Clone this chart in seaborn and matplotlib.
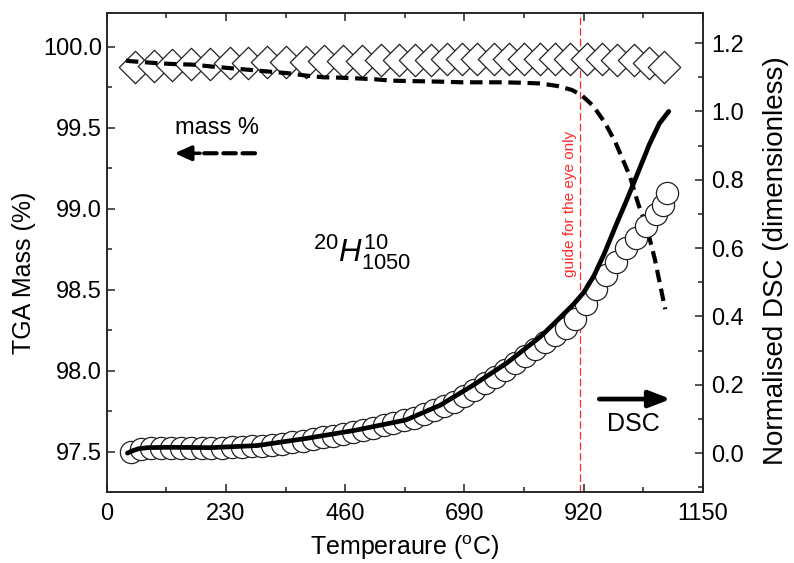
import numpy as np
import pandas as pd
import seaborn as sns
import matplotlib.pyplot as plt
from matplotlib.ticker import MultipleLocator, FormatStrFormatter

sns.set_style('ticks')
plt.rcParams['font.family'] = ['Liberation Sans', 'DejaVu Sans']
plt.rcParams['mathtext.fontset'] = 'custom'
plt.rcParams['mathtext.rm'] = 'Liberation Sans'
plt.rcParams['mathtext.it'] = 'Liberation Sans:italic'
plt.rcParams['text.color'] = 'black'
plt.rcParams['axes.labelcolor'] = 'black'
plt.rcParams['xtick.color'] = 'black'
plt.rcParams['ytick.color'] = 'black'

# TGA mass (left axis), dashed line
tga_temp = [37, 47, 89, 127, 166, 204, 243, 278, 313, 350, 386, 417, 446, 477, 516, 552,
            579, 643, 687, 723, 764, 803, 836, 868, 897, 916, 938, 961, 981, 993, 1009,
            1025, 1041, 1057, 1077]
tga_mass = [99.914, 99.91, 99.90, 99.893, 99.889, 99.877, 99.866, 99.856, 99.846, 99.836,
            99.821, 99.811, 99.809, 99.805, 99.799, 99.790, 99.788, 99.784, 99.780, 99.780,
            99.780, 99.777, 99.773, 99.758, 99.733, 99.70, 99.635, 99.53, 99.41, 99.32,
            99.20, 99.03, 98.89, 98.69, 98.38]

# reference mass points (diamonds)
ref_temp = [55, 91, 126, 163, 200, 237, 273, 310, 345, 384, 419, 456, 493, 529, 564, 595,
            625, 656, 685, 715, 746, 775, 804, 836, 865, 893, 926, 955, 984, 1016, 1045, 1074]
ref_mass = [99.877, 99.882, 99.887, 99.891, 99.895, 99.898, 99.901, 99.904, 99.906, 99.908,
            99.910, 99.912, 99.914, 99.916, 99.918, 99.920, 99.920, 99.921, 99.921, 99.922,
            99.922, 99.922, 99.922, 99.922, 99.922, 99.922, 99.922, 99.921, 99.920, 99.916,
            99.902, 99.877]

# normalised DSC (right axis), solid line
dsc_temp = [40, 50, 62, 80, 120, 200, 290, 385, 480, 577, 643, 707, 771, 836, 860, 880,
            900, 920, 940, 960, 983, 1000, 1015, 1031, 1047, 1066, 1084]
dsc_val = [0.0, 0.007, 0.013, 0.016, 0.017, 0.016, 0.022, 0.043, 0.067, 0.097, 0.14, 0.199,
           0.263, 0.34, 0.375, 0.405, 0.435, 0.47, 0.52, 0.585, 0.67, 0.73, 0.785, 0.845,
           0.905, 0.965, 1.0]

# normalised DSC points (circles)
pts_temp = [46, 66, 85, 105, 124, 144, 163, 183, 202, 222, 241, 261, 280, 300, 319, 339,
            358, 378, 397, 417, 436, 456, 475, 495, 514, 534, 553, 573, 592, 612, 631, 651,
            670, 690, 709, 729, 748, 768, 787, 807, 826, 846, 865, 885, 904, 924, 943, 963,
            982, 1002, 1021, 1041, 1060, 1072, 1080]
pts_val = [0.003, 0.012, 0.015, 0.016, 0.016, 0.016, 0.016, 0.016, 0.016, 0.016, 0.017,
           0.018, 0.020, 0.022, 0.025, 0.028, 0.032, 0.036, 0.041, 0.046, 0.051, 0.056,
           0.062, 0.068, 0.074, 0.081, 0.088, 0.096, 0.104, 0.114, 0.125, 0.137, 0.151,
           0.166, 0.185, 0.205, 0.223, 0.243, 0.263, 0.283, 0.305, 0.325, 0.345, 0.365,
           0.392, 0.435, 0.48, 0.52, 0.56, 0.60, 0.63, 0.665, 0.70, 0.725, 0.76]

guide_temp = 912

fig = plt.figure(figsize=(7.94, 5.63), dpi=100)
ax = fig.add_axes([0.1344, 0.1266, 0.751, 0.8498])
ax2 = ax.twinx()

sns.scatterplot(x=ref_temp, y=ref_mass, ax=ax, marker='D', s=16.5**2, facecolor='white',
                edgecolor='#222222', linewidth=0.9, zorder=2)
sns.lineplot(x=tga_temp, y=tga_mass, ax=ax, color='black', lw=3, sort=False,
             estimator=None, linestyle=(0, (3, 1.6)), zorder=3)
ax.axvline(guide_temp, color='#ff2a2a', lw=0.9, linestyle=(0, (6, 2.5)), zorder=1)

sns.scatterplot(x=pts_temp, y=pts_val, ax=ax2, marker='o', s=16**2, facecolor='white',
                edgecolor='#222222', linewidth=0.9, zorder=2)
sns.lineplot(x=dsc_temp, y=dsc_val, ax=ax2, color='black', lw=3.4, sort=False,
             estimator=None, zorder=3)

ax.set_xlim(0, 1150)
ax.set_ylim(97.253, 100.206)
ax2.set_ylim(-0.113, 1.287)

ax.xaxis.set_major_locator(MultipleLocator(230))
ax.xaxis.set_minor_locator(MultipleLocator(115))
ax.yaxis.set_major_locator(MultipleLocator(0.5))
ax.yaxis.set_minor_locator(MultipleLocator(0.25))
ax.yaxis.set_major_formatter(FormatStrFormatter('%.1f'))
ax2.yaxis.set_major_locator(MultipleLocator(0.2))
ax2.yaxis.set_minor_locator(MultipleLocator(0.1))
ax2.yaxis.set_major_formatter(FormatStrFormatter('%.1f'))

ax.tick_params(axis='both', which='both', direction='in', top=True, right=False,
               labelsize=17, width=1.1, color='#222222')
ax.tick_params(which='major', length=6)
ax.tick_params(which='minor', length=3.5)
ax.tick_params(axis='x', pad=8)
ax2.tick_params(axis='y', which='both', direction='in', labelsize=17, width=1.1,
                color='#222222', pad=6)
ax2.tick_params(which='major', length=6)
ax2.tick_params(which='minor', length=3.5)

for a in (ax, ax2):
    for s in a.spines.values():
        s.set_linewidth(1.1)
        s.set_color('#222222')

ax.set_xlabel('Temperaure ($^{\\mathrm{o}}$C)', fontsize=18, labelpad=6)
ax.set_ylabel('TGA Mass (%)', fontsize=18)
ax.yaxis.set_label_coords(-0.118, 0.457)
ax2.set_ylabel('Normalised DSC (dimensionless)', fontsize=20)
ax2.yaxis.set_label_coords(1.10, 0.484)

# annotations
ax.text(131, 99.50, 'mass %', fontsize=17, ha='left', va='center')
ax.annotate('', xy=(186, 99.342), xytext=(286, 99.342),
            arrowprops=dict(arrowstyle='-', lw=3, linestyle=(0, (3, 1.6)), color='black',
                            shrinkA=0, shrinkB=0))
ax.annotate('', xy=(131, 99.342), xytext=(180, 99.342),
            arrowprops=dict(arrowstyle='-|>,head_length=1.0,head_width=0.45', lw=2.5,
                            color='black', shrinkA=0, shrinkB=0))
ax.annotate('', xy=(1088, 97.825), xytext=(950, 97.825),
            arrowprops=dict(arrowstyle='-|>,head_length=1.3,head_width=0.5', lw=3.4,
                            color='black', shrinkA=0, shrinkB=0))
ax.text(1015, 97.67, 'DSC', fontsize=18, ha='center', va='center')
ax.text(894, 99.03, 'guide for the eye only', fontsize=11, color='#ff2a2a',
        rotation=90, ha='center', va='center')
ax.text(493, 98.73, '${}^{\\mathit{20}}\\mathit{H}^{\\mathit{10}}_{\\mathit{1050}}$',
        fontsize=22.5, ha='center', va='center')

fig.savefig('out.png', dpi=100)
